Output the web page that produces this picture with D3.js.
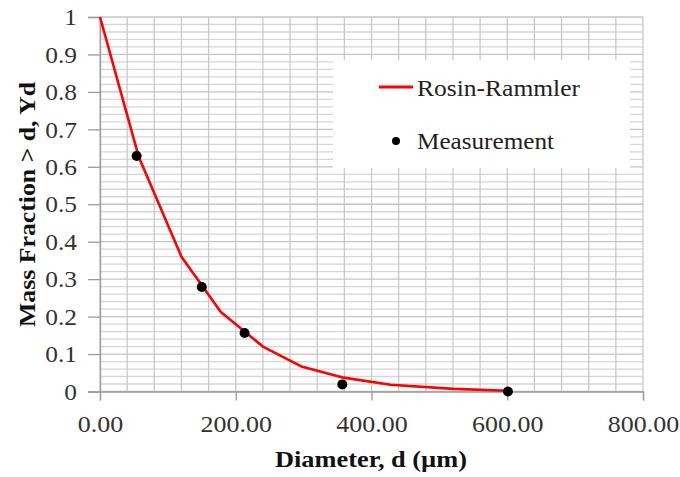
<!DOCTYPE html>
<meta charset="utf-8">
<style>
body { margin: 0; background: #fff; }
svg { font-family: "Liberation Serif", "Times New Roman", serif; }
</style>
<svg width="680" height="477"></svg>
<script src="https://d3js.org/d3.v7.min.js"></script>
<script>

// Rosin-Rammler fit
var fitD = [0, 57, 120, 178, 240, 298, 359, 428, 521, 600];
var fitY = [1, 0.627, 0.36, 0.212, 0.12, 0.066, 0.037, 0.018, 0.007, 0.002];

// measured points
var measD = [54, 150, 213, 357, 601];
var measY = [0.629, 0.279, 0.156, 0.019, 0.0];

var xTicks = [0, 200, 400, 600, 800];
var yTicks = [0, 0.1, 0.2, 0.3, 0.4, 0.5, 0.6, 0.7, 0.8, 0.9, 1];

var serif = "'Liberation Serif', 'Times New Roman', serif";
var svg = d3.select("svg");
var pL = 100, pR = 643, pT = 17, pB = 391.5;
var stretch = 1.13; // the reference text is a bit wide

var x = d3.scaleLinear().domain([0, 800]).range([pL, pR]);
var y = d3.scaleLinear().domain([0, 1]).range([pB, pT]);

var grid = svg.append("g");

// minor horizontal grid every 0.02
grid.selectAll("line.h")
  .data(d3.range(0, 51).map(function(i) { return i / 50; }))
  .enter().append("line")
    .attr("x1", pL).attr("x2", pR)
    .attr("y1", function(d) { return y(d); })
    .attr("y2", function(d) { return y(d); })
    .attr("stroke", function(d, i) { return i % 5 == 0 ? "#c4c4c4" : "#d6d6d6"; })
    .attr("stroke-width", 1.3);

// vertical grid every 40
grid.selectAll("line.v")
  .data(d3.range(0, 21).map(function(i) { return i * 40; }))
  .enter().append("line")
    .attr("y1", pT).attr("y2", pB)
    .attr("x1", function(d) { return x(d); })
    .attr("x2", function(d) { return x(d); })
    .attr("stroke", "#c8c8c8")
    .attr("stroke-width", 1.3);

// axes
var xAxis = svg.append("g")
  .attr("transform", "translate(0," + pB + ")")
  .call(d3.axisBottom(x).tickValues(xTicks).tickSize(9)
    .tickFormat(d3.format(".2f")));
xAxis.attr("font-family", serif);
xAxis.selectAll(".tick text")
  .attr("y", 40.5).attr("dy", 0)
  .attr("fill", "#333")
  .style("font-family", serif)
  .style("font-size", "23px")
  .attr("transform", "scale(" + stretch + ",1)");

var yAxis = svg.append("g")
  .attr("transform", "translate(" + pL + ",0)")
  .call(d3.axisLeft(y).tickValues(yTicks).tickSize(12)
    .tickFormat(function(d) { return d3.format("")(+d.toFixed(1)); }));
yAxis.attr("font-family", serif);
yAxis.selectAll(".tick text")
  .attr("x", -20.3).attr("dy", "0.34em")
  .attr("fill", "#333")
  .style("font-family", serif)
  .style("font-size", "22.5px")
  .attr("transform", "scale(" + stretch + ",1)");

svg.selectAll(".domain").attr("stroke", "#9a9a9a").attr("stroke-width", 1.3);
svg.selectAll(".tick line").attr("stroke", "#9a9a9a").attr("stroke-width", 1.3);

// legend box (white, covers grid)
var lg = svg.append("g");
lg.append("rect")
  .attr("x", 333).attr("y", 60).attr("width", 297).attr("height", 108)
  .attr("fill", "#fff");
lg.append("line")
  .attr("x1", 379).attr("x2", 413).attr("y1", 87).attr("y2", 87)
  .attr("stroke", "#f00").attr("stroke-width", 3);
lg.append("text").attr("x", 417).attr("y", 96)
  .attr("font-size", 22.5).attr("fill", "#222")
  .attr("textLength", 163).attr("lengthAdjust", "spacingAndGlyphs")
  .text("Rosin-Rammler");
lg.append("circle").attr("cx", 396).attr("cy", 141).attr("r", 4).attr("fill", "#000");
lg.append("text").attr("x", 417).attr("y", 149)
  .attr("font-size", 22.5).attr("fill", "#222")
  .attr("textLength", 137).attr("lengthAdjust", "spacingAndGlyphs")
  .text("Measurement");

// fit curve
var fit = fitD.map(function(d, i) { return [d, fitY[i]]; });
svg.append("path")
  .datum(fit)
  .attr("fill", "none")
  .attr("stroke", "#f00")
  .attr("stroke-width", 2.6)
  .attr("stroke-linejoin", "round")
  .attr("d", d3.line().x(function(d) { return x(d[0]); }).y(function(d) { return y(d[1]); }));

// measurements
svg.selectAll("circle.m")
  .data(measD.map(function(d, i) { return [d, measY[i]]; }))
  .enter().append("circle")
    .attr("cx", function(d) { return x(d[0]); })
    .attr("cy", function(d) { return y(d[1]); })
    .attr("r", 5)
    .attr("fill", "#000");

// axis titles
svg.append("text")
  .attr("x", 371).attr("y", 467)
  .attr("text-anchor", "middle")
  .attr("font-size", 24).attr("font-weight", "bold").attr("fill", "#111")
  .attr("textLength", 192).attr("lengthAdjust", "spacingAndGlyphs")
  .text("Diameter, d (\u00b5m)");
svg.append("text")
  .attr("transform", "translate(35,204.5) rotate(-90)")
  .attr("text-anchor", "middle")
  .attr("font-size", 24).attr("font-weight", "bold").attr("fill", "#111")
  .attr("textLength", 245).attr("lengthAdjust", "spacingAndGlyphs")
  .text("Mass Fraction > d, Yd");

</script>
